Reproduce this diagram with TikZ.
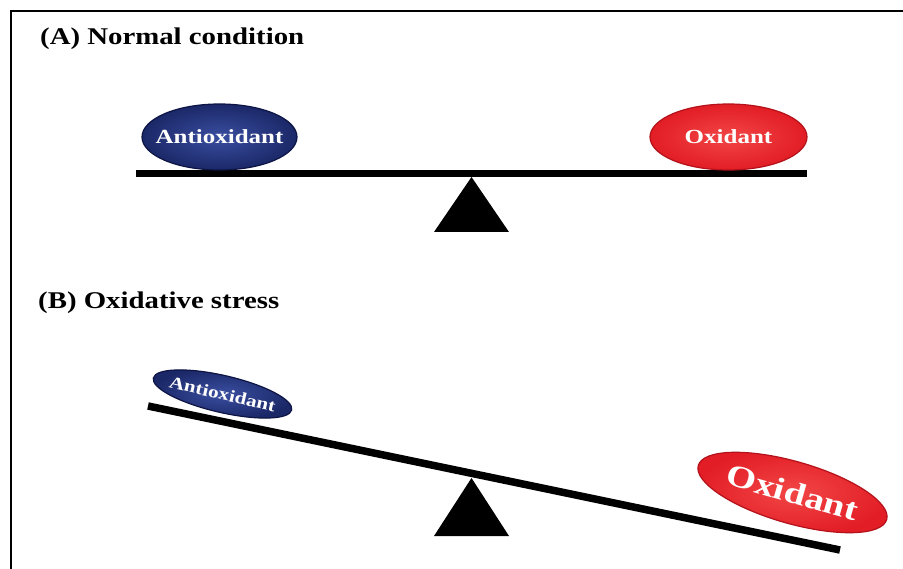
\documentclass[tikz,border=0pt]{standalone}
\usepackage{fontspec}
\setmainfont{Liberation Serif}
\usetikzlibrary{shapes.geometric}

\definecolor{navy}{HTML}{1B2868}
\definecolor{navylight}{HTML}{3A4EA0}
\definecolor{navyedge}{HTML}{0E1545}
\definecolor{oxred}{HTML}{E21D25}
\definecolor{oxredlight}{HTML}{F24646}
\definecolor{oxrededge}{HTML}{B3121A}

% horizontally widened text, zero width so the ellipse keeps its own size
\newcommand{\widetext}[2]{\makebox[0pt][c]{\scalebox{#1}[1]{#2}}}

\tikzset{
  heading/.style={anchor=base west, inner sep=0pt,
    font=\bfseries\fontsize{24}{28}\selectfont},
  blob/.style={ellipse, inner sep=0pt, draw, line width=1.2pt, text=white},
  antiox/.style={blob, draw=navyedge, inner color=navylight, outer color=navy},
  oxid/.style={blob, draw=oxrededge, inner color=oxredlight, outer color=oxred},
  beam/.style={line width=7.5pt, line cap=butt},
  pivot/.style={fill=black},
}

\begin{document}
\begin{tikzpicture}[x=1pt,y=1pt]
\useasboundingbox (0,0) rectangle (903,-569);

% frame
\draw[line width=2pt] (903,-11) -- (11,-11) -- (11,-569);

% (A) balanced seesaw
\node[heading] (titleA) at (40,-44.5) {\scalebox{1.2}[1]{(A) Normal condition}};
\draw[beam] (136,-173.5) -- (807,-173.5);
\fill[pivot] (471.5,-177) -- (509,-232) -- (434,-232) -- cycle;
\node[antiox, minimum width=155pt, minimum height=66pt] (antiA) at (219.5,-137)
  {\widetext{1.25}{\bfseries\fontsize{20}{24}\selectfont Antioxidant}};
\node[oxid, minimum width=157pt, minimum height=66pt] (oxA) at (728.5,-137)
  {\widetext{1.25}{\bfseries\fontsize{20}{24}\selectfont Oxidant}};

% (B) tilted seesaw
\node[heading] (titleB) at (38,-309) {\scalebox{1.2}[1]{(B) Oxidative stress}};
\draw[beam] (148,-406) -- (840,-550);
\fill[pivot] (471.5,-478) -- (509,-536) -- (434,-536) -- cycle;
\node[antiox, minimum width=142pt, minimum height=37pt, rotate=-13] (antiB) at (222.5,-394)
  {\widetext{1.25}{\bfseries\fontsize{17}{20}\selectfont Antioxidant}};
\node[oxid, minimum width=196pt, minimum height=62pt, rotate=-16] (oxB) at (792.5,-492.5)
  {\widetext{1.25}{\bfseries\fontsize{31}{36}\selectfont Oxidant}};
\end{tikzpicture}
\end{document}
